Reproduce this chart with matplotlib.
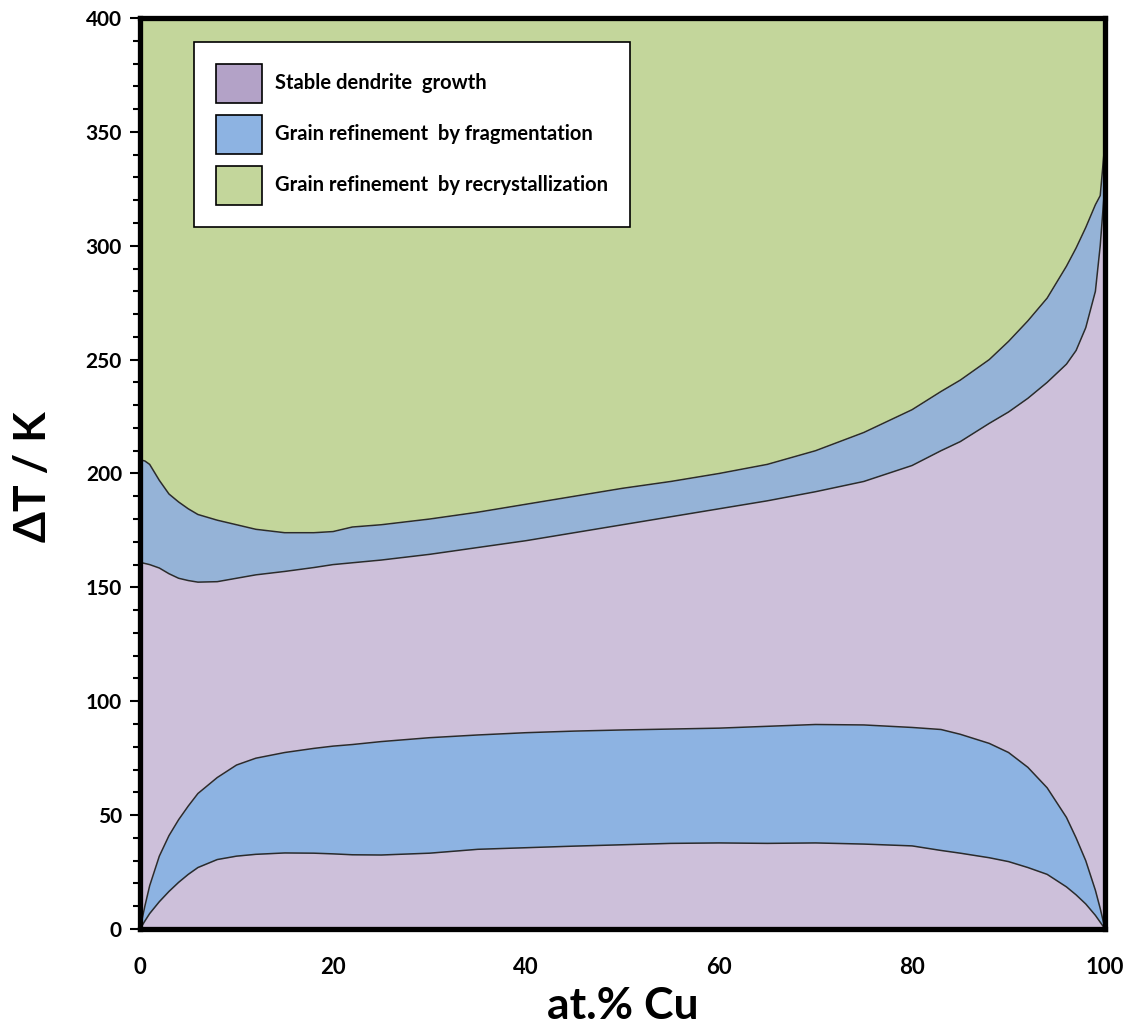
import matplotlib
matplotlib.use('Agg')
import matplotlib.pyplot as plt
from matplotlib.patches import Patch
from matplotlib.ticker import MultipleLocator

plt.rcParams['font.family'] = ['Lato', 'DejaVu Sans']

# composition grid, at.% Cu
cu = [0, 0.5, 1, 2, 3, 4, 5, 6, 8, 10, 12, 15, 18, 20, 22, 25, 30, 35, 40, 45,
      50, 55, 60, 65, 70, 75, 80, 83, 85, 88, 90, 92, 94, 96, 97, 98, 99, 99.5, 100]

# upper boundary: fragmentation -> recrystallization
recryst_lim = [206, 205.5, 204, 197, 191, 187.5, 184.5, 182, 179.5, 177.5, 175.5, 174, 174,
               174.5, 176.5, 177.5, 180, 183, 186.5, 190, 193.5, 196.5, 200, 204, 210, 218,
               228, 236, 241, 250, 258, 267, 277, 291, 299, 308, 318, 322, 346]
# stable growth -> fragmentation (upper)
frag_upper = [161, 160.5, 160, 158.5, 156, 154, 153, 152.3, 152.5, 154, 155.5, 157, 158.7, 160,
              160.8, 162, 164.5, 167.5, 170.5, 174, 177.5, 181, 184.5, 188, 192, 196.5, 203.5,
              210, 214, 222, 227, 233, 240, 248, 254, 264, 280, 300, 328]
# lower fragmentation band
band_top = [0, 10, 19, 32, 41, 48, 54, 59.5, 66.5, 72, 75, 77.5, 79.3, 80.3, 81, 82.3, 84, 85.2,
            86.2, 86.9, 87.4, 87.8, 88.2, 89, 89.8, 89.6, 88.5, 87.6, 85.5, 81.5, 77.5, 71, 62,
            49, 40, 30, 17, 9, 0]
band_bot = [0, 3.5, 6.8, 12, 16.5, 20.5, 24, 27, 30.5, 32, 32.8, 33.4, 33.3, 33, 32.6, 32.5,
            33.3, 35, 35.7, 36.4, 37, 37.6, 37.8, 37.6, 37.8, 37.3, 36.5, 34.5, 33.3, 31.3,
            29.6, 27, 24, 18.5, 15, 11, 6, 3, 0]

labels = ['Stable dendrite  growth', 'Grain refinement  by fragmentation',
          'Grain refinement  by recrystallization']

purple = '#cdc0da'
purple_leg = '#b3a2c7'
blue_low = '#8db3e2'
blue_up = '#95b3d7'
green = '#c3d69b'
edge = '#2b2b2b'

fig = plt.figure(figsize=(11.43, 10.27), dpi=100)
ax = fig.add_axes([0.1225, 0.0954, 0.8443, 0.8871])

ax.fill_between(cu, recryst_lim, 400, color=green, lw=0)
ax.fill_between(cu, frag_upper, recryst_lim, color=blue_up, lw=0)
ax.fill_between(cu, 0, frag_upper, color=purple, lw=0)
ax.fill_between(cu, band_bot, band_top, color=blue_low, lw=0)
for c in [recryst_lim, frag_upper, band_top, band_bot]:
    ax.plot(cu, c, color=edge, lw=1.1)

ax.set_xlim(0, 100)
ax.set_ylim(0, 400)
ax.xaxis.set_major_locator(MultipleLocator(20))
ax.yaxis.set_major_locator(MultipleLocator(50))
ax.yaxis.set_minor_locator(MultipleLocator(10))
ax.tick_params(axis='y', which='major', direction='out', length=7, width=1.5, pad=6,
               labelsize=15)
ax.tick_params(axis='y', which='minor', direction='out', length=5, width=1.5)
ax.tick_params(axis='x', length=0, pad=20, labelsize=16)
for lab in ax.get_xticklabels() + ax.get_yticklabels():
    lab.set_fontweight('bold')
for s in ax.spines.values():
    s.set_linewidth(3.8)

ax.set_xlabel('at.% Cu', fontsize=32, fontweight='bold')
ax.xaxis.set_label_coords(0.5, -0.062)
ax.set_ylabel('ΔT / K', fontsize=32, fontweight='bold')
ax.yaxis.set_label_coords(-0.09, 0.496)

handles = [Patch(facecolor=purple_leg, edgecolor='black', lw=1.2),
           Patch(facecolor=blue_low, edgecolor='black', lw=1.2),
           Patch(facecolor=green, edgecolor='black', lw=1.2)]
leg = ax.legend(handles, labels, loc='upper left', bbox_to_anchor=(0.056, 0.974),
                prop={'size': 14.5, 'weight': 'bold'}, frameon=True, fancybox=False,
                framealpha=1, edgecolor='black', handlelength=2.25, handleheight=2.6,
                labelspacing=0.6, borderpad=1.1, handletextpad=0.65, borderaxespad=0)
leg.get_frame().set_linewidth(1.2)

fig.savefig('out.png', dpi=100)
